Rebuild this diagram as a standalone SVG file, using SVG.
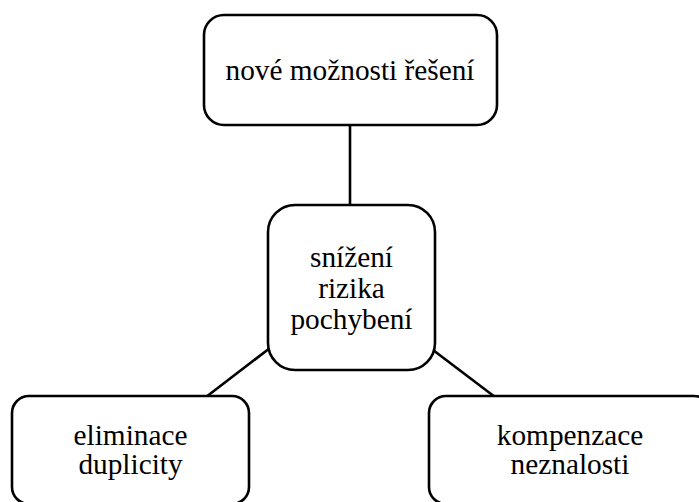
<svg xmlns="http://www.w3.org/2000/svg" width="699" height="502" viewBox="0 0 699 502">
  <style>
    .box { fill: #ffffff; stroke: #000000; stroke-width: 2.6; }
    .link { stroke: #000000; stroke-width: 2.6; fill: none; }
    .label { font-family: 'Liberation Serif', 'Times New Roman', serif; font-size: 29.3px; fill: #000000; text-anchor: middle; }
  </style>
  <rect width="699" height="502" fill="#ffffff"/>
  <g id="connectors">
    <line class="link" x1="350" y1="125" x2="350" y2="205"/>
    <line class="link" x1="270" y1="348" x2="206" y2="397"/>
    <line class="link" x1="433" y1="350" x2="495" y2="397"/>
  </g>
  <g id="node-reseni">
    <rect class="box" x="204" y="15" width="293" height="110" rx="20" ry="20"/>
    <text class="label" x="350" y="80">nové možnosti řešení</text>
  </g>
  <g id="node-riziko">
    <rect class="box" x="268" y="205" width="167" height="165" rx="27" ry="27"/>
    <text class="label" x="351.5" y="267">snížení</text>
    <text class="label" x="351.5" y="298">rizika</text>
    <text class="label" x="351.5" y="329">pochybení</text>
  </g>
  <g id="node-duplicity">
    <rect class="box" x="12" y="396" width="237" height="108" rx="17" ry="17"/>
    <text class="label" x="130.5" y="445">eliminace</text>
    <text class="label" x="130.5" y="474">duplicity</text>
  </g>
  <g id="node-neznalost">
    <rect class="box" x="429" y="396" width="282" height="108" rx="17" ry="17"/>
    <text class="label" x="570" y="445">kompenzace</text>
    <text class="label" x="570" y="474">neznalosti</text>
  </g>
</svg>
